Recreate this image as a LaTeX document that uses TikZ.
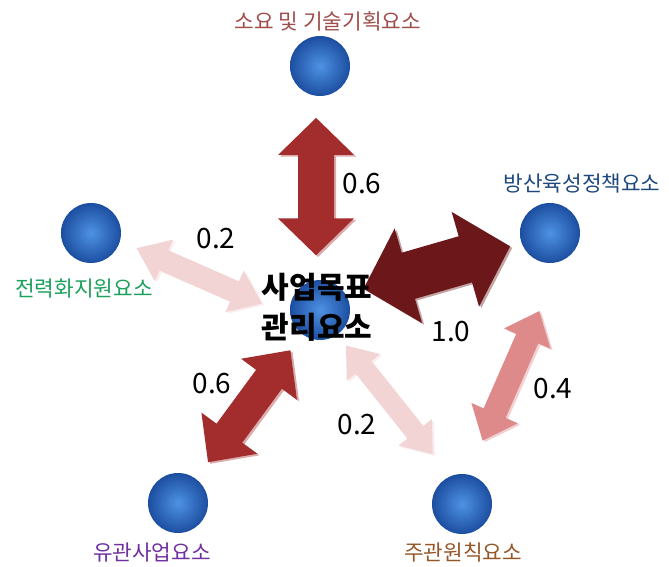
\documentclass[tikz,border=0pt]{standalone}
\usepackage{fontspec}
\setmainfont{Noto Sans CJK KR}
\usetikzlibrary{calc}

\definecolor{ballin}{RGB}{78,146,228}
\definecolor{ballout}{RGB}{28,78,160}
\definecolor{darkred}{RGB}{163,44,44}
\definecolor{maroon}{RGB}{108,24,26}
\definecolor{rose}{RGB}{222,138,138}
\definecolor{blush}{RGB}{243,212,212}
\definecolor{lblred}{RGB}{160,78,76}
\definecolor{lblblue}{RGB}{31,73,125}
\definecolor{lblgreen}{RGB}{28,160,92}
\definecolor{lblpurple}{RGB}{112,48,160}
\definecolor{lblbrown}{RGB}{150,86,40}

% double block arrow from tip #1 to tip #2: half shaft #3, half head #4, head length #5
\newcommand\dblarrow[5]{($(#1)$)
  -- ($($(#1)!#5!(#2)$)!#4!90:(#2)$) -- ($($(#1)!#5!(#2)$)!#3!90:(#2)$)
  -- ($($(#2)!#5!(#1)$)!#3!-90:(#1)$) -- ($($(#2)!#5!(#1)$)!#4!-90:(#1)$)
  -- ($(#2)$)
  -- ($($(#2)!#5!(#1)$)!#4!90:(#1)$) -- ($($(#2)!#5!(#1)$)!#3!90:(#1)$)
  -- ($($(#1)!#5!(#2)$)!#3!-90:(#2)$) -- ($($(#1)!#5!(#2)$)!#4!-90:(#2)$)
  -- cycle}

\tikzset{
  ball/.style={circle, minimum size=45pt, inner sep=0pt, shading=radial,
    inner color=ballin, outer color=ballout},
  lbl/.style={font=\fontsize{16pt}{18pt}\selectfont, inner sep=0pt},
  wt/.style={font=\fontsize{21pt}{24pt}\selectfont, inner sep=0pt},
  hubtext/.style={font=\bfseries\fontsize{22.5pt}{30pt}\selectfont, align=center, inner sep=0pt},
  rim/.style={transform canvas={shift={(1.6pt,-1.2pt)}}}
}

\begin{document}
\begin{tikzpicture}[x=0.75pt,y=-0.75pt]
\useasboundingbox (0,0) rectangle (669,567);

% elements
\node[ball] (hub) at (320,310) {};
\node[ball] (need) at (320,66) {};
\node[ball] (policy) at (550,233) {};
\node[ball] (support) at (91,233) {};
\node[ball] (related) at (178,503) {};
\node[ball] (lead) at (462,504) {};

\node[lbl, text=lblred] at (328,21) {소요 및 기술기획요소};
\node[lbl, text=lblblue] at (582,184) {방산육성정책요소};
\node[lbl, text=lblgreen] at (84,289) {전력화지원요소};
\node[lbl, text=lblpurple] at (152,553) {유관사업요소};
\node[lbl, text=lblbrown] at (463,552) {주관원칙요소};

% arrow ends
\coordinate (needA) at ($(hub)!41pt!(need)+(-4,0)$);
\coordinate (needB) at ($(need)!39pt!(hub)+(-4,0)$);
\coordinate (policyA) at ($(hub)!36pt!(policy)+(-2,-6)$);
\coordinate (policyB) at ($(policy)!31.5pt!(hub)$);
\coordinate (supportA) at ($(hub)!43.5pt!(support)+(-3,12)$);
\coordinate (supportB) at ($(support)!36pt!(hub)$);
\coordinate (relatedA) at ($(hub)!37.5pt!(related)$);
\coordinate (relatedB) at ($(related)!38pt!(hub)$);
\coordinate (leadA) at ($(hub)!33pt!(lead)$);
\coordinate (leadB) at ($(lead)!43.5pt!(hub)+(5,-3)$);
\coordinate (crossA) at ($(policy)!60pt!(lead)+(14,2)$);
\coordinate (crossB) at ($(lead)!50pt!(policy)$);

% weighted links
\foreach \a/\b/\col/\hb/\hh/\hl in {
  needA/needB/darkred/13.5pt/28.5pt/27.75pt,
  policyA/policyB/maroon/18pt/37pt/35pt,
  supportA/supportB/blush/8.25pt/17pt/22.5pt,
  relatedA/relatedB/darkred/12pt/26pt/27pt,
  leadA/leadB/blush/7.5pt/16pt/21pt,
  crossA/crossB/rose/9pt/19pt/22.5pt} {
  \fill[rim, \col!40!white] \dblarrow{\a}{\b}{\hb}{\hh}{\hl};
  \fill[\col] \dblarrow{\a}{\b}{\hb}{\hh}{\hl};
}

\node[wt] (w1) at (362,184) {0.6};
\node[wt] (w2) at (216,239) {0.2};
\node[wt] (w3) at (451,332) {1.0};
\node[wt] (w4) at (212,384) {0.6};
\node[wt] (w5) at (357,425) {0.2};
\node[wt] (w6) at (553,389) {0.4};

\node[hubtext] (goal) at (317,307) {사업목표\\관리요소};
\end{tikzpicture}
\end{document}
